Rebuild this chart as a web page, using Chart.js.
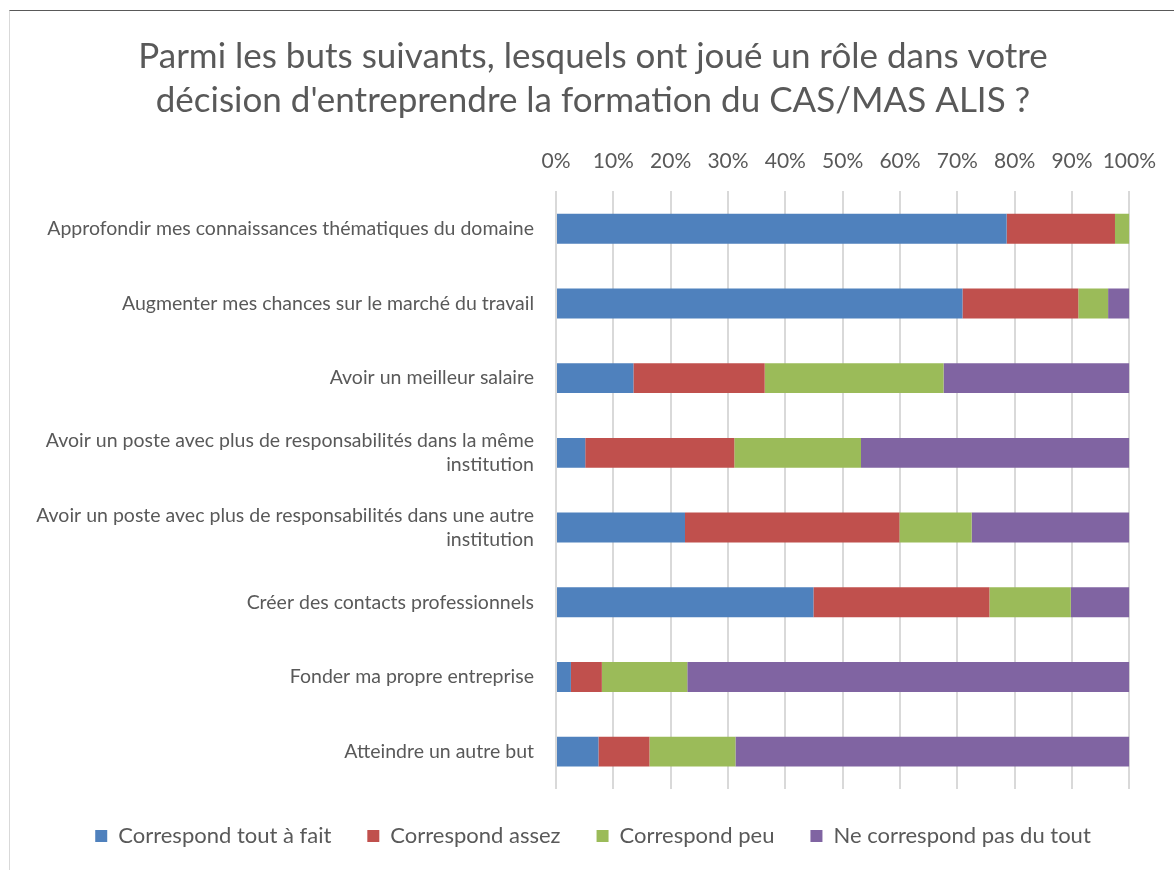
<!DOCTYPE html>
<html>
<head>
<meta charset="utf-8">
<script src="https://cdn.jsdelivr.net/npm/chart.js@4.4.1/dist/chart.umd.min.js"></script>
<style>
    html, body { margin: 0; padding: 0; background: #fff; overflow: hidden; }
    #wrap { position: relative; width: 1174px; height: 870px; overflow: hidden; }
    #chart { position: absolute; left: 0; top: 0; }
    #frame {
        position: absolute; left: 9px; top: 10px; right: 0; bottom: 0;
        border-top: 1px solid #595959; border-left: 1px solid #d9d9d9;
        pointer-events: none;
    }
</style>
</head>
<body>
<div id="wrap">
    <canvas id="chart" width="1174" height="900"></canvas>
    <div id="frame"></div>
</div>
<script>
/* =========================
   Data
========================= */
const categories = [
    "Approfondir mes connaissances thématiques du domaine",
    "Augmenter mes chances sur le marché du travail",
    "Avoir un meilleur salaire",
    ["Avoir un poste avec plus de responsabilités dans la même", "institution"],
    ["Avoir un poste avec plus de responsabilités dans une autre", "institution"],
    "Créer des contacts professionnels",
    "Fonder ma propre entreprise",
    "Atteindre un autre but"
];

const toutAFait   = [78.6, 70.9, 13.5,  5.1, 22.5, 44.9,  2.6,  7.4];
const assez       = [18.9, 20.2, 22.9, 26.0, 37.4, 30.7,  5.4,  8.9];
const peu         = [ 2.5,  5.2, 31.2, 22.1, 12.6, 14.2, 14.9, 15.0];
const pasDuTout   = [ 0.0,  3.7, 32.4, 46.8, 27.5, 10.2, 77.1, 68.7];

const seriesNames = ["Correspond tout à fait", "Correspond assez", "Correspond peu", "Ne correspond pas du tout"];
const tickValues  = [0, 10, 20, 30, 40, 50, 60, 70, 80, 90, 100];

const titleLines = [
    "Parmi les buts suivants, lesquels ont joué un rôle dans votre",
    "décision d'entreprendre la formation du CAS/MAS ALIS ?"
];

/* =========================
   Chart.js defaults
========================= */
const FONT = "Lato, 'Open Sans', sans-serif";
const TEXT = '#595959';
Chart.defaults.font.family = FONT;
Chart.defaults.color = TEXT;

const colors = ['#4f81bd', '#c0504d', '#9bbb59', '#8064a2'];
const values = [toutAFait, assez, peu, pasDuTout];

const datasets = seriesNames.map((name, i) => ({
    label: name,
    data: values[i],
    backgroundColor: colors[i],
    borderWidth: 0,
    categoryPercentage: 1,
    barPercentage: 0.4
}));

new Chart(document.getElementById('chart').getContext('2d'), {
    type: 'bar',
    data: { labels: categories, datasets },
    options: {
        indexAxis: 'y',
        responsive: false,
        animation: false,
        layout: { padding: { left: 28, right: 16, top: 0, bottom: 43 } },
        plugins: {
            title: {
                display: true,
                text: titleLines,
                color: TEXT,
                font: { size: 35, weight: 'normal', lineHeight: 1.26 },
                padding: { top: 35, bottom: 7 }
            },
            legend: {
                position: 'bottom',
                labels: {
                    boxWidth: 12,
                    boxHeight: 12,
                    padding: 36,
                    color: TEXT,
                    font: { size: 22 }
                }
            },
            tooltip: { enabled: false }
        },
        scales: {
            x: {
                position: 'top',
                stacked: true,
                min: 0,
                max: 100,
                afterBuildTicks: axis => { axis.ticks = tickValues.map(v => ({ value: v })); },
                ticks: {
                    callback: v => v + '%',
                    font: { size: 21 },
                    color: TEXT,
                    padding: 18
                },
                grid: { color: '#d9d9d9', lineWidth: 2, drawTicks: false },
                border: { display: false }
            },
            y: {
                stacked: true,
                afterFit: axis => { axis.width = 528; },
                ticks: {
                    font: { size: 19.5, lineHeight: 1.23 },
                    color: TEXT,
                    padding: 22
                },
                grid: { display: false, drawTicks: false },
                border: { display: false }
            }
        }
    }
});
</script>
</body>
</html>
